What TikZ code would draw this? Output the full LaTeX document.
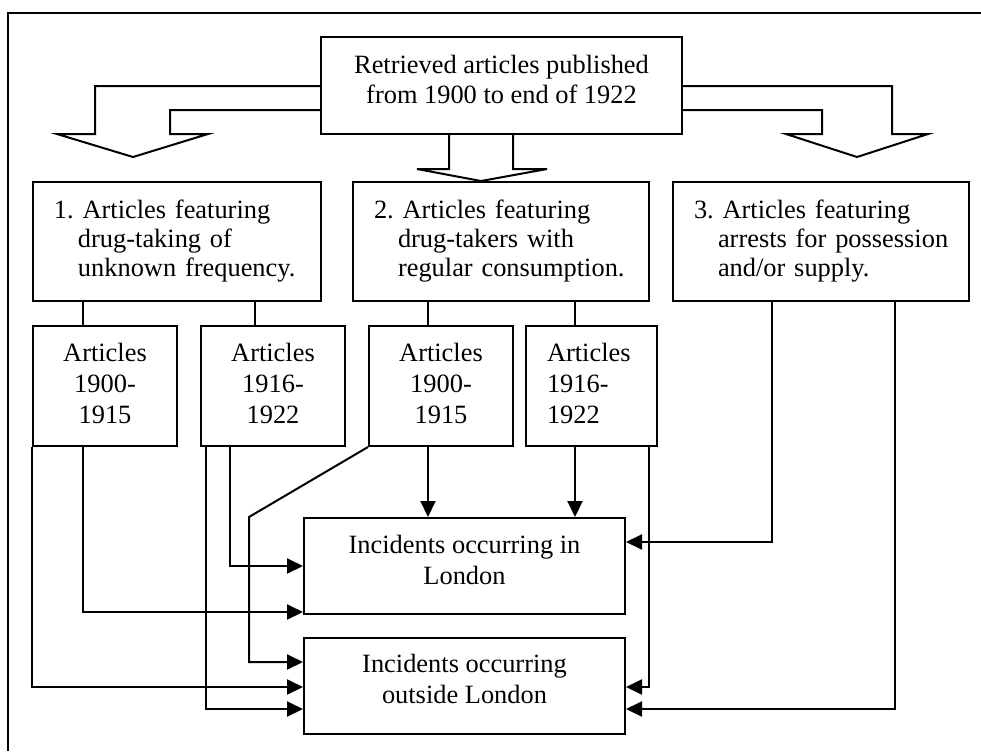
\documentclass[tikz,border=0pt]{standalone}
\usepackage{fontspec}
\setmainfont{Liberation Serif}
\usetikzlibrary{arrows.meta}
\frenchspacing
\newcommand\mydepth[1]{\rule[-#1]{0pt}{#1}}
\begin{document}
\begin{tikzpicture}[x=0.5pt,y=-0.5pt,
  line width=1pt,
  box/.style={draw,line width=1pt,inner sep=0pt,rectangle,
    font=\fontsize{13.2pt}{15.5pt}\selectfont},
  catbox/.style={box,minimum width=148pt,minimum height=59.5pt,
    inner xsep=10.5pt,text width=#1,align=left,
    font=\fontsize{13.2pt}{14.5pt}\selectfont\frenchspacing},
  yearbox/.style={box,minimum width=72pt,minimum height=60pt,align=center},
  incbox/.style={box,minimum width=160.5pt,minimum height=48pt,align=center},
  conn/.style={line width=1pt},
  arr/.style={conn,-{Triangle[length=8pt,width=7.5pt]}},
]
\useasboundingbox (0,0) rectangle (981,751);

% outer frame (left and top edges)
\draw[conn] (8,751) -- (8,13) -- (981,13);

% boxes
\node[box,minimum width=180.5pt,minimum height=48.5pt,align=center,
  font=\fontsize{13.2pt}{15pt}\selectfont] (top) at (501.5,85.5)
  {Retrieved articles published\\from 1900 to end of 1922\mydepth{6.5pt}};

\node[catbox=123pt,minimum width=144pt] (b1) at (177,241.5)
  {\mbox{1. Articles featuring}\\\mbox{\hspace*{12pt}drug-taking of}\\\mbox{\hspace*{12pt}unknown frequency.}};
\node[catbox=127pt] (b2) at (501,241.5)
  {\mbox{2. Articles featuring}\\\mbox{\hspace*{12pt}drug-takers with}\\\mbox{\hspace*{12pt}regular consumption.}};
\node[catbox=127pt] (b3) at (821,241.5)
  {\mbox{3. Articles featuring}\\\mbox{\hspace*{12pt}arrests for possession}\\\mbox{\hspace*{12pt}and/or supply.}};

\node[yearbox] (sA) at (105,386) {Articles\\1900-\\1915\mydepth{3pt}};
\node[yearbox] (sB) at (273,386) {Articles\\1916-\\1922\mydepth{3pt}};
\node[yearbox] (sC) at (441,386) {Articles\\1900-\\1915\mydepth{3pt}};
\node[box,minimum width=65.5pt,minimum height=60pt,inner xsep=10.5pt,
  text width=44.5pt,align=left] (sD) at (591.5,386)
  {Articles\\1916-\\1922\mydepth{3pt}};

\node[incbox] (lon) at (464.5,566)
  {Incidents occurring in\\London\mydepth{6.5pt}};
\node[incbox] (out) at (464.5,686)
  {Incidents occurring\\outside London\mydepth{7.5pt}};

% block arrows from the top box
\draw[conn] (top.west |- 0,86) -- (95,86) -- (95,134) -- (57,134) -- (133,157)
  -- (208,134) -- (170,134) -- (170,110) -- (top.west |- 0,110);
\draw[conn] (top.east |- 0,86) -- (892,86) -- (892,134) -- (928,134) -- (857,157)
  -- (786,134) -- (822,134) -- (822,110) -- (top.east |- 0,110);
\draw[conn] (449,0 |- top.south) -- (449,169) -- (417,169) -- (481,181)
  -- (547,169) -- (513,169) -- (513,0 |- top.south);

% category boxes to year boxes
\draw[conn] (83,0 |- b1.south) -- (83,0 |- sA.north);
\draw[conn] (255,0 |- b1.south) -- (255,0 |- sB.north);
\draw[conn] (428,0 |- b2.south) -- (428,0 |- sC.north);
\draw[conn] (575,0 |- b2.south) -- (575,0 |- sD.north);

% year boxes to incident boxes
\draw[arr] (83,0 |- sA.south) |- (lon.west |- 0,612);
\draw[arr] (sA.south west) |- (out.west |- 0,687);
\draw[arr] (206,0 |- sB.south) |- (out.west |- 0,709);
\draw[arr] (230,0 |- sB.south) |- (lon.west |- 0,566);
\draw[arr] (sC.south west) -- (249,517) |- (out.west |- 0,662);
\draw[arr] (428,0 |- sC.south) -- (428,0 |- lon.north);
\draw[arr] (575,0 |- sD.south) -- (575,0 |- lon.north);
\draw[arr] (649,0 |- sD.south) |- (out.east |- 0,687);
\draw[arr] (772,0 |- b3.south) |- (lon.east |- 0,542);
\draw[arr] (895,0 |- b3.south) |- (out.east |- 0,709);
\end{tikzpicture}
\end{document}
